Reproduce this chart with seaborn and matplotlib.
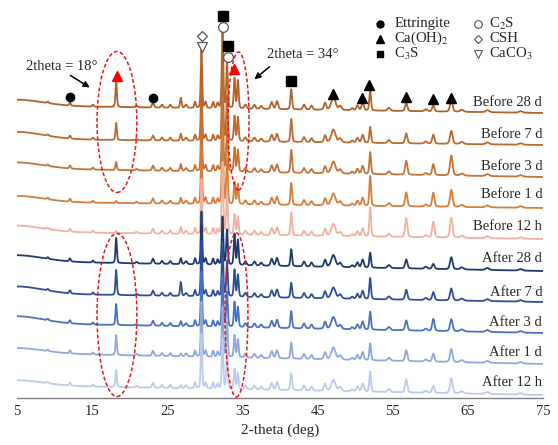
import numpy as np
import pandas as pd
import matplotlib
matplotlib.use("Agg")
import matplotlib.pyplot as plt
import seaborn as sns
from matplotlib.patches import Ellipse

# ---------------- data ----------------
samples = ["Before 28 d", "Before 7 d", "Before 3 d", "Before 1 d", "Before 12 h",
           "After 28 d", "After 7 d", "After 3 d", "After 1 d", "After 12 h"]
colors = ["#b3622a", "#bd6a2f", "#c67337", "#d57d3b", "#f2b29e",
          "#1f3a6e", "#2d4f95", "#4a72c2", "#8ea9de", "#bccbec"]

# vertical offsets of each trace (baseline level at 2theta = 18 and at 75)
base_at_18 = [291, 258, 228, 195, 165, 135, 103, 73, 43, 11]
base_at_75 = [285, 253, 221, 190, 159, 127, 96, 65, 34, 3]
low_angle_rise = [6, 7, 6, 6, 6, 6, 7, 7, 5, 5]

# peaks shared by all traces: position, FWHM, height
common_pos = [9.1, 12.05, 15.1, 20.9, 23.1, 24.3, 25.4, 27.5, 28.7, 30.1, 31.1, 31.7,
              35.4, 36.6, 37.5, 38.9, 39.6, 43.2, 44.2, 46.0, 48.0, 49.6, 50.3, 51.0,
              54.5, 59.4, 64.2, 67.6, 72.0]
common_fwhm = [0.25, 0.25, 0.25, 0.3, 0.3, 0.3, 0.3, 0.35, 0.25, 0.25, 0.25, 0.25,
               0.35, 0.35, 0.35, 0.35, 0.35, 0.35, 0.35, 0.35, 0.45, 0.35, 0.35, 0.35,
               0.45, 0.45, 0.55, 0.55, 0.55]
common_height = [1.5, 3, 2, 1.5, 5, 3, 3, 3, 6, 6, 6, 5,
                  4, 4, 3, 7, 8, 5, 4, 7, 4, 2, 5, 8,
                  3, 2, 2, 2, 1.5]

# peaks whose height changes from trace to trace
var_pos = [18.2, 26.8, 29.55, 32.35, 32.95, 33.95, 34.4, 41.5, 47.1, 52.0, 56.8, 60.4, 62.8]
var_fwhm = [0.22, 0.24, 0.22, 0.24, 0.24, 0.24, 0.24, 0.26, 0.65, 0.26, 0.35, 0.35, 0.4]
h_18_2 = [26, 17, 8, 2, 2, 25, 25, 21, 20, 17]
h_26_8 = [10, 7, 7, 6, 7, 6, 14, 5, 3, 3]
h_29_55 = [58, 58, 58, 58, 55, 53, 55, 55, 55, 55]
h_32_35 = [77, 75, 75, 75, 72, 48, 50, 50, 50, 50]
h_32_95 = [45, 45, 45, 45, 42, 35, 35, 35, 35, 35]
h_33_95 = [30, 25, 24, 22, 20, 31, 27, 25, 22, 20]
h_34_4 = [28, 24, 22, 20, 18, 25, 22, 20, 18, 16]
h_41_5 = [20, 23, 23, 22, 23, 17, 15, 17, 16, 17]
h_47_1 = [13, 13, 12, 12, 12, 12, 11, 12, 12, 11]
h_52_0 = [20, 16, 22, 30, 29, 15, 21, 18, 17, 20]
h_56_8 = [8, 10, 14, 14, 19, 9, 10, 10, 11, 13]
h_60_4 = [6, 9, 11, 14, 16, 5, 8, 12, 8, 7]
h_62_8 = [12, 13, 20, 17, 20, 12, 12, 12, 13, 15]
var_heights = [h_18_2, h_26_8, h_29_55, h_32_35, h_32_95, h_33_95, h_34_4,
               h_41_5, h_47_1, h_52_0, h_56_8, h_60_4, h_62_8]

# trace label positions (right aligned)
label_y = [295, 263, 232, 203, 172, 140, 106, 76, 46, 16]

# phase markers placed above the top trace
mark_theta = [12.05, 23.1, 18.3, 29.6, 29.6, 32.4, 32.4, 33.1, 33.1, 33.9, 41.5,
              47.05, 50.9, 51.85, 56.8, 60.4, 62.8]
mark_y = [301, 300, 322, 362, 351, 382, 371, 352, 341, 329, 317,
          304, 300, 313, 301, 299, 300]
mark_kind = ["ett", "ett", "ch_red", "csh", "cc", "c3s", "c2s", "c3s", "c2s", "ch_red", "c3s",
             "ch", "ch", "ch", "ch", "ch", "ch"]

xticks = [5, 15, 25, 35, 45, 55, 65, 75]

# highlight ellipses: centre x, centre y, width, height
ell_x = [18.3, 18.3, 34.48, 34.2]
ell_y = [276, 83, 277, 83]
ell_w = [5.3, 5.3, 2.8, 3.06]
ell_h = [141, 163, 138, 164]

# ---------------- build traces ----------------
theta = np.linspace(5, 75, 2801)


def pv(t, c, fwhm, h, eta=0.3):
    s = fwhm / 2.3548
    g = np.exp(-0.5 * ((t - c) / s) ** 2)
    lor = 1.0 / (1.0 + ((t - c) / (fwhm / 2)) ** 2)
    return h * ((1 - eta) * g + eta * lor)


frames = []
for i, name in enumerate(samples):
    y = base_at_18[i] + (base_at_75[i] - base_at_18[i]) * (theta - 18) / 57.0
    y = y + low_angle_rise[i] * np.exp(-0.5 * ((theta - 5) / 3.5) ** 2)
    for c, w, h in zip(common_pos, common_fwhm, common_height):
        y = y + pv(theta, c, w, h)
    for c, w, hs in zip(var_pos, var_fwhm, var_heights):
        y = y + pv(theta, c, w, hs[i])
    frames.append(pd.DataFrame({"theta": theta, "intensity": y, "sample": name}))
df = pd.concat(frames, ignore_index=True)

# ---------------- plot ----------------
sns.set_style("white")
plt.rcParams["font.family"] = ["Liberation Serif", "DejaVu Serif"]
plt.rcParams["mathtext.fontset"] = "stix"

fig = plt.figure(figsize=(5.58, 4.45), dpi=100)
ax = fig.add_axes([17 / 558, 47 / 445, 526 / 558, 398 / 445])

sns.lineplot(data=df, x="theta", y="intensity", hue="sample", hue_order=samples,
             palette=colors, estimator=None, sort=False, legend=False,
             linewidth=1.3, ax=ax)

ax.set_xlim(5, 75)
ax.set_ylim(0, 398)
ax.set_xticks(xticks)
ax.set_xticklabels([str(v) for v in xticks], fontsize=10.5)
ax.set_yticks([])
ax.tick_params(axis="x", length=0, pad=5)
for s in ["top", "left", "right"]:
    ax.spines[s].set_visible(False)
ax.spines["bottom"].set_color("#7f7f7f")
ax.spines["bottom"].set_linewidth(1.0)
ax.set_xlabel("2-theta (deg)", fontsize=11, labelpad=4)
ax.set_ylabel("")

for name, yl in zip(samples, label_y):
    ax.text(74.9, yl, name, ha="right", va="center", fontsize=10.5)

mstyle = {
    "ett": dict(marker="o", mfc="black", mec="black", ms=6),
    "ch": dict(marker="^", mfc="black", mec="black", ms=7),
    "ch_red": dict(marker="^", mfc="red", mec="red", ms=7),
    "c3s": dict(marker="s", mfc="black", mec="black", ms=6.5),
    "c2s": dict(marker="o", mfc="white", mec="#555555", ms=7, mew=0.9),
    "csh": dict(marker="D", mfc="white", mec="#555555", ms=5.5, mew=0.9),
    "cc": dict(marker="v", mfc="white", mec="#555555", ms=7.5, mew=0.9),
}
key_style = {
    "ett": dict(marker="o", mfc="black", mec="black", ms=5),
    "ch": dict(marker="^", mfc="black", mec="black", ms=5.5),
    "c3s": dict(marker="s", mfc="black", mec="black", ms=4.8),
    "c2s": dict(marker="o", mfc="white", mec="#555555", ms=5.5, mew=0.8),
    "csh": dict(marker="D", mfc="white", mec="#555555", ms=4.5, mew=0.8),
    "cc": dict(marker="v", mfc="white", mec="#555555", ms=6, mew=0.8),
}
for t, yv, k in zip(mark_theta, mark_y, mark_kind):
    ax.plot([t], [yv], linestyle="none", clip_on=False, zorder=5, **mstyle[k])

# legend-like key at top right
key_rows = [374.5, 359.5, 344]
col1_m, col1_t = 53.31, 55.2
col2_m, col2_t = 66.35, 67.8
key1 = [("ett", "Ettringite"), ("ch", "Ca(OH)$_2$"), ("c3s", "C$_3$S")]
key2 = [("c2s", "C$_2$S"), ("csh", "CSH"), ("cc", "CaCO$_3$")]
for (k, lab), yv in zip(key1, key_rows):
    ax.plot([col1_m], [yv], linestyle="none", clip_on=False, **key_style[k])
    ax.text(col1_t, yv, lab, va="center", ha="left", fontsize=10.6)
for (k, lab), yv in zip(key2, key_rows):
    ax.plot([col2_m], [yv], linestyle="none", clip_on=False, **key_style[k])
    ax.text(col2_t, yv, lab, va="center", ha="left", fontsize=10.6)

for cx, cy, w, h in zip(ell_x, ell_y, ell_w, ell_h):
    ax.add_patch(Ellipse((cx, cy), w, h, fill=False, edgecolor="#e8141c",
                         linestyle=(0, (2.5, 1.5)), linewidth=1.1, zorder=6))

ax.text(6.2, 331, "2theta = 18°", fontsize=10.5, va="center", ha="left")
ax.annotate("", xy=(15.0, 309), xytext=(11.8, 324),
            arrowprops=dict(arrowstyle="-|>", color="black", lw=1.1, mutation_scale=9))
ax.text(38.27, 343, "2theta = 34°", fontsize=10.5, va="center", ha="left")
ax.annotate("", xy=(36.3, 317), xytext=(38.9, 333),
            arrowprops=dict(arrowstyle="-|>", color="black", lw=1.1, mutation_scale=9))

fig.savefig("out.png", dpi=100)
